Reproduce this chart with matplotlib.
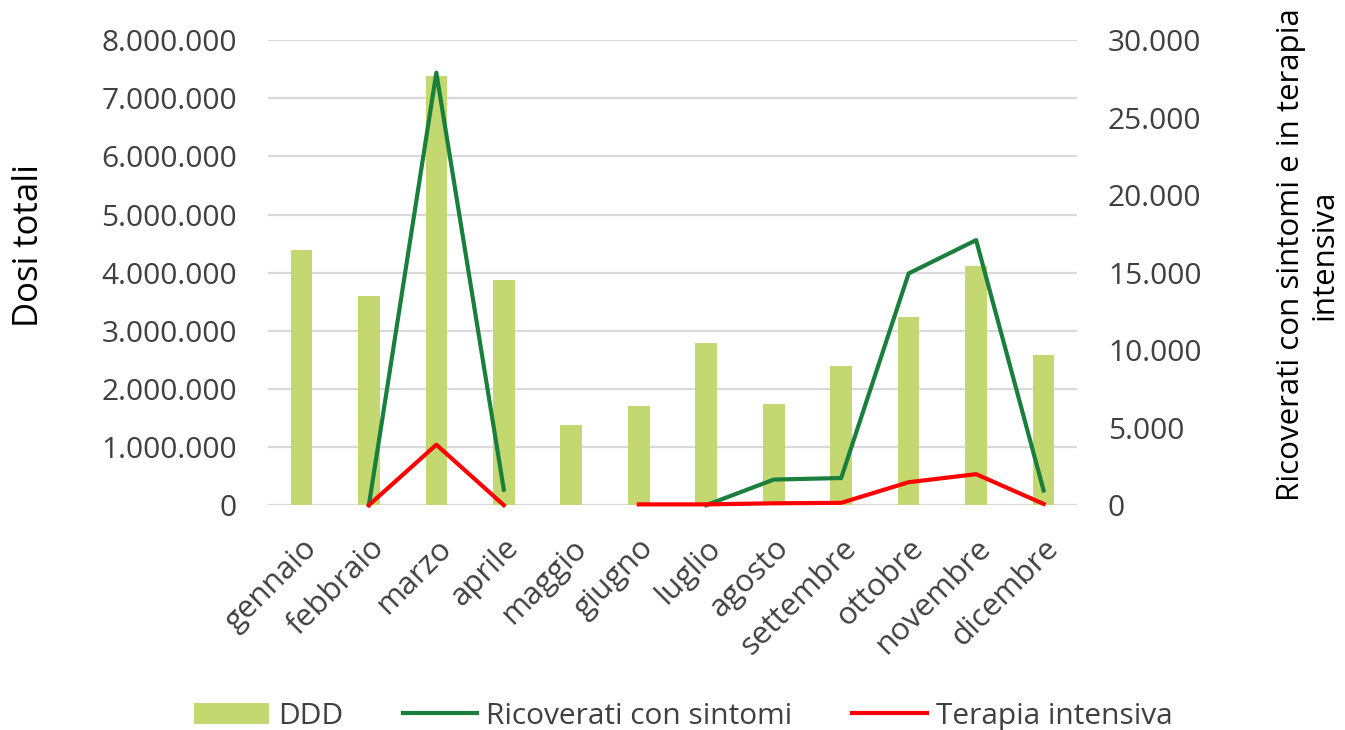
import matplotlib
matplotlib.use("Agg")
import matplotlib.pyplot as plt
from matplotlib.ticker import FuncFormatter
import numpy as np

months = ["gennaio", "febbraio", "marzo", "aprile", "maggio", "giugno",
          "luglio", "agosto", "settembre", "ottobre", "novembre", "dicembre"]
ddd = [4390000, 3600000, 7380000, 3870000, 1380000, 1700000,
       2790000, 1740000, 2390000, 3240000, 4110000, 2580000]
ricoverati = [np.nan, 0, 27900, 1000, np.nan, np.nan,
              0, 1650, 1750, 14950, 17100, 950]
terapia = [np.nan, 0, 3900, 0, np.nan, 50,
           50, 120, 150, 1480, 2000, 80]

left_ticks = [0, 1000000, 2000000, 3000000, 4000000, 5000000, 6000000, 7000000, 8000000]
right_ticks = [0, 5000, 10000, 15000, 20000, 25000, 30000]

plt.rcParams['font.family'] = ['Open Sans', 'DejaVu Sans']
txt = '#404040'
FS = 21.5

def itfmt(v, pos):
    return f"{int(round(v)):,}".replace(",", ".")

fig = plt.figure(figsize=(13.45, 7.3), dpi=100)
ax = fig.add_axes([0.199, 0.308, 0.602, 0.637])
ax2 = ax.twinx()

x = np.arange(len(months))
bars = ax.bar(x, ddd, width=0.32, color='#C3D870', zorder=2, label='DDD')
ax.set_ylim(0, 8000000)
ax.set_xlim(-0.5, len(months) - 0.5)
ax.set_yticks(left_ticks)
ax.yaxis.set_major_formatter(FuncFormatter(itfmt))
ax.grid(axis='y', color='#d9d9d9', linewidth=1.6, zorder=0)
ax.set_axisbelow(True)

l1, = ax2.plot(x, ricoverati, color='#1A7F3C', linewidth=3, label='Ricoverati con sintomi',
               zorder=3, clip_on=False)
l2, = ax2.plot(x, terapia, color='#FF0000', linewidth=3, label='Terapia intensiva',
               zorder=4, clip_on=False)
ax2.set_ylim(0, 30000)
ax2.set_yticks(right_ticks)
ax2.yaxis.set_major_formatter(FuncFormatter(itfmt))

for a in (ax, ax2):
    for s in a.spines.values():
        s.set_visible(False)
    a.tick_params(length=0, labelsize=FS, labelcolor=txt)
ax.tick_params(axis='y', pad=22)
ax2.tick_params(axis='y', pad=22)

ax.set_xticks(x)
ax.set_xticklabels(months, rotation=45, ha='right', rotation_mode='anchor', fontsize=22.5, color=txt)
ax.tick_params(axis='x', pad=20)

ax.set_ylabel('Dosi totali', fontsize=25, color='black', labelpad=40)
ax.yaxis.label.set_y(0.559)
ax2.set_ylabel('Ricoverati con sintomi e in terapia\nintensiva', fontsize=22.5, color='black',
               rotation=90, labelpad=54, linespacing=1.12)
ax2.yaxis.label.set_y(0.538)

fig.legend(handles=[bars, l1, l2], labels=['DDD', 'Ricoverati con sintomi', 'Terapia intensiva'],
           loc='center', bbox_to_anchor=(0.508, 0.019), ncol=3, frameon=False, fontsize=FS,
           handlelength=2.5, handleheight=0.7, handletextpad=0.3, columnspacing=2.0,
           labelcolor=txt, borderaxespad=0)

fig.savefig('out.png', dpi=100)
